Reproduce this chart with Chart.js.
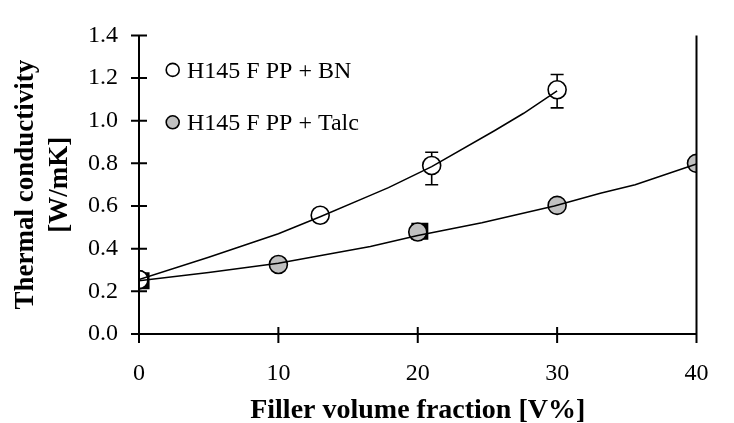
<!DOCTYPE html>
<html>
<head>
<meta charset="utf-8">
<script src="https://cdn.jsdelivr.net/npm/chart.js@4.4.1/dist/chart.umd.min.js"></script>
<style>
  html, body { margin: 0; padding: 0; background: #fff; }
  #wrap { width: 734px; height: 423px; }
</style>
</head>
<body>
<div id="wrap"><canvas id="myChart" width="734" height="423"></canvas></div>
<script>
// tick labels
const xTicks = [0, 10, 20, 30, 40];
const yTicks = [0, 0.2, 0.4, 0.6, 0.8, 1.0, 1.2, 1.4];

// measured points
const bnX = [0, 13, 21, 30];
const bnY = [0.255, 0.557, 0.79, 1.145];
const bnErrLow = [null, null, 0.70, 1.06];
const bnErrHigh = [null, null, 0.852, 1.217];

const talcX = [0, 10, 20, 30, 40];
const talcY = [0.255, 0.326, 0.478, 0.603, 0.80];

// black squares peeking out behind two of the talc circles
const squareX = [0.15, 20.15];
const squareY = [0.25, 0.482];

// fitted curves
const bnFitX = [0, 5, 10, 13, 16.6, 17.9, 21, 25.5, 27.6, 30];
const bnFitY = [0.255, 0.36, 0.47, 0.55, 0.65, 0.686, 0.785, 0.953, 1.035, 1.14];

const talcFitX = [0, 5, 10, 16.6, 20, 24.6, 29.8, 33.1, 35.6, 40];
const talcFitY = [0.25, 0.288, 0.332, 0.41, 0.462, 0.522, 0.60, 0.66, 0.70, 0.797];

const pts = (xs, ys) => xs.map((x, i) => ({x: x, y: ys[i]}));
const serif = "'Liberation Serif', 'Times New Roman', serif";

// where the plot box should sit
const AREA_TOP = 20, AREA_RIGHT = 721;
const pad = { left: 0, top: 20, right: 13, bottom: 0 };

// error bars, drawn under the markers
const errorBars = {
  id: 'errorBars',
  beforeDatasetsDraw(chart) {
    const ctx = chart.ctx, xs = chart.scales.x, ys = chart.scales.y;
    ctx.save();
    ctx.strokeStyle = '#000';
    ctx.lineWidth = 1.6;
    bnX.forEach((x, i) => {
      if (bnErrLow[i] == null) return;
      const px = xs.getPixelForValue(x);
      const lo = ys.getPixelForValue(bnErrLow[i]);
      const hi = ys.getPixelForValue(bnErrHigh[i]);
      ctx.beginPath();
      ctx.moveTo(px, lo); ctx.lineTo(px, hi);
      ctx.moveTo(px - 6.5, lo); ctx.lineTo(px + 6.5, lo);
      ctx.moveTo(px - 6.5, hi); ctx.lineTo(px + 6.5, hi);
      ctx.stroke();
    });
    ctx.restore();
  }
};

// axis lines, crossing ticks, right frame line and the legend
const frame = {
  id: 'frame',
  afterDraw(chart) {
    const ctx = chart.ctx, a = chart.chartArea;
    const xs = chart.scales.x, ys = chart.scales.y;
    ctx.save();
    ctx.strokeStyle = '#000';
    ctx.lineWidth = 2;
    ctx.beginPath();
    ctx.moveTo(a.left, a.top); ctx.lineTo(a.left, a.bottom);
    ctx.moveTo(a.left, a.bottom); ctx.lineTo(a.right, a.bottom);
    ctx.moveTo(a.right, a.top); ctx.lineTo(a.right, a.bottom);
    yTicks.forEach(v => {
      const py = ys.getPixelForValue(v);
      ctx.moveTo(a.left - 8, py); ctx.lineTo(a.left + 8, py);
    });
    xTicks.forEach(v => {
      const px = xs.getPixelForValue(v);
      ctx.moveTo(px, a.bottom - 7); ctx.lineTo(px, a.bottom + 9);
    });
    ctx.stroke();

    // legend
    const items = chart.data.datasets.filter(d => d.inLegend);
    ctx.font = '24px ' + serif;
    ctx.textBaseline = 'middle';
    items.forEach((d, i) => {
      const cy = a.top + 34.5 + i * 52.4;
      ctx.beginPath();
      ctx.arc(a.left + 33.7, cy, 6.5, 0, Math.PI * 2);
      ctx.fillStyle = d.backgroundColor;
      ctx.fill();
      ctx.lineWidth = 1.6;
      ctx.stroke();
      ctx.fillStyle = '#000';
      ctx.fillText(d.label, a.left + 48, cy + 1.5);
    });
    ctx.restore();
  }
};

const chartCanvas = document.getElementById('myChart');

const chart = new Chart(chartCanvas, {
  type: 'scatter',
  data: {
    datasets: [
      {
        label: 'BN fit',
        data: pts(bnFitX, bnFitY),
        showLine: true,
        pointRadius: 0,
        borderColor: '#000',
        borderWidth: 1.5,
        order: 0
      },
      {
        label: 'Talc fit',
        data: pts(talcFitX, talcFitY),
        showLine: true,
        pointRadius: 0,
        borderColor: '#000',
        borderWidth: 1.5,
        order: 0
      },
      {
        label: 'H145 F PP + BN',
        inLegend: true,
        data: pts(bnX, bnY),
        pointRadius: 9,
        pointBackgroundColor: '#fff',
        backgroundColor: '#fff',
        pointBorderColor: '#000',
        pointBorderWidth: 1.6,
        order: 1
      },
      {
        label: 'H145 F PP + Talc',
        inLegend: true,
        data: pts(talcX, talcY),
        pointRadius: 9,
        pointBackgroundColor: '#c0c0c0',
        backgroundColor: '#c0c0c0',
        pointBorderColor: '#000',
        pointBorderWidth: 1.6,
        order: 1
      },
      {
        label: 'squares',
        data: pts(squareX, squareY),
        pointStyle: 'rect',
        pointRadius: 12,
        pointBackgroundColor: '#000',
        pointBorderColor: '#000',
        pointBorderWidth: 0,
        order: 2
      }
    ]
  },
  options: {
    responsive: false,
    animation: false,
    devicePixelRatio: 1,
    layout: { padding: pad },
    plugins: {
      legend: { display: false },
      tooltip: { enabled: false }
    },
    scales: {
      x: {
        type: 'linear',
        min: 0,
        max: 40,
        afterBuildTicks: s => { s.ticks = xTicks.map(v => ({value: v})); },
        afterFit: s => { s.height = 89; },
        grid: { display: false, drawTicks: false },
        border: { display: false },
        ticks: {
          color: '#000',
          padding: 25.5,
          maxRotation: 0,
          font: { family: serif, size: 24 }
        },
        title: {
          display: true,
          text: 'Filler volume fraction [V%]',
          color: '#000',
          padding: { top: 0, bottom: -2 },
          font: { family: serif, size: 28, weight: 'bold', lineHeight: 1.0 }
        }
      },
      y: {
        type: 'linear',
        min: 0,
        max: 1.4,
        afterBuildTicks: s => { s.ticks = yTicks.map(v => ({value: v})); },
        afterFit: s => { s.width = 139; },
        grid: { display: false, drawTicks: false },
        border: { display: false },
        ticks: {
          color: '#000',
          padding: 21,
          callback: v => Number(v).toFixed(1),
          font: { family: serif, size: 24 }
        },
        title: {
          display: true,
          text: ['Thermal conductivity', '[W/mK]'],
          color: '#000',
          padding: { top: 9, bottom: 0 },
          font: { family: serif, size: 27, weight: 'bold', lineHeight: 1.25 }
        }
      }
    }
  },
  plugins: [errorBars, frame]
});

// Chart.js adds label overflow on top of the padding, so nudge the box into place
for (let k = 0; k < 3; k++) {
  const a = chart.chartArea;
  pad.top += AREA_TOP - a.top;
  pad.right += a.right - AREA_RIGHT;
  chart.options.layout.padding = Object.assign({}, pad);
  chart.update();
}
</script>
</body>
</html>
